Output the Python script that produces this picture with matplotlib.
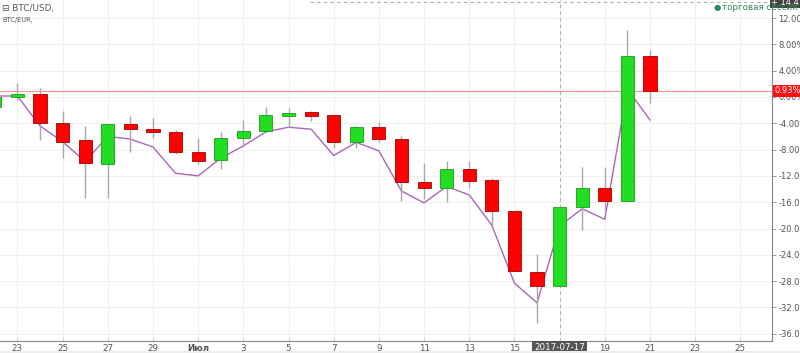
import matplotlib
matplotlib.use("Agg")
import matplotlib.pyplot as plt
import matplotlib.transforms as mtransforms
import numpy as np

# days since 2017-06-23 (June 22 = -1 ... July 21 = 28)
days = list(range(-1, 29))

opens = [-1.47, -0.05, 0.41, -3.9, -6.53, -10.2, -4.15, -4.8, -5.4, -8.3,
         -9.6, -6.2, -5.2, -2.9, -2.3, -2.8, -6.8, -4.5, -6.4, -13.0,
         -13.8, -11.0, -12.7, -17.3, -26.6, -28.7, -16.8, -13.9, -15.8, 6.23]
highs = [0.05, 2.08, 1.32, -2.08, -4.4, -4.1, -2.9, -3.2, -5.0, -6.3,
         -5.3, -3.5, -1.6, -1.7, -2.2, -2.8, -4.4, -3.85, -5.9, -10.0,
         -9.8, -9.7, -12.3, -17.3, -23.8, -16.8, -10.7, -10.7, 10.2, 7.1]
lows = [-1.47, -0.46, -6.53, -9.3, -15.3, -15.3, -8.3, -6.3, -8.7, -10.2,
        -10.9, -7.55, -5.3, -4.5, -3.65, -7.7, -7.7, -6.8, -15.8, -15.5,
        -16.0, -13.8, -19.5, -26.5, -34.3, -28.7, -20.3, -17.2, -15.8, -0.96]
closes = [0.05, 0.41, -3.9, -6.8, -9.98, -4.15, -4.86, -5.4, -8.3, -9.7,
          -6.3, -5.2, -2.7, -2.4, -2.9, -6.8, -4.5, -6.4, -13.0, -13.8,
          -11.0, -12.8, -17.3, -26.5, -28.7, -16.8, -13.9, -15.8, 6.23, 0.93]

# BTC/EUR comparison line
eur = [0.15, 0.15, -4.4, -6.8, -9.8, -6.0, -6.4, -7.6, -11.6, -12.0,
       -9.3, -7.45, -5.3, -4.6, -4.9, -8.9, -6.9, -8.2, -14.3, -16.1,
       -13.6, -14.9, -19.5, -28.3, -31.3, -19.6, -17.0, -18.6, 1.2, -3.5]

tick_days = list(range(0, 33, 2))
tick_labels = ['23', '25', '27', '29', 'Июл', '3', '5', '7', '9', '11', '13',
               '15', '', '19', '21', '23', '25']
y_ticks = list(range(-36, 13, 4))

last_price = 0.93
cross_day = 24
cross_val = 14.4

fig = plt.figure(figsize=(8, 3.53), dpi=100)
ax = fig.add_axes([0, 12 / 353, 772 / 800, 341 / 353])

ax.set_xlim(-0.77, 33.4)
ax.set_ylim(-37.1, 14.74)

# grid
for d in tick_days:
    ax.axvline(d, color='#f0f0f0', lw=0.8, zorder=0)
for v in y_ticks:
    ax.axhline(v, color='#f0f0f0', lw=0.8, zorder=0)

# comparison line
ax.plot(days, eur, color='#a867b8', lw=1.0, zorder=2)

# candles
d_arr = np.array(days)
o = np.array(opens)
c = np.array(closes)
up = c >= o
ax.vlines(d_arr, lows, highs, color='#a8a8a8', lw=1.0, zorder=3)
ax.bar(d_arr[up], (c - o)[up], bottom=o[up], width=0.58, color='#22dd22',
       edgecolor='#1c9c1c', lw=0.6, zorder=4)
ax.bar(d_arr[~up], (o - c)[~up], bottom=c[~up], width=0.58, color='#ff0000',
       edgecolor='#a80000', lw=0.6, zorder=4)

# last price line
ax.axhline(last_price, color='#ff9090', lw=0.8, zorder=1)

# crosshair
ax.axvline(cross_day, color='#b0b0b0', lw=0.8, ls=(0, (3, 3)), zorder=1)
ax.axhline(cross_val, xmin=310 / 772, xmax=1, color='#b0b0b0', lw=0.8,
           ls=(0, (3, 3)), zorder=1)

# axes styling
for s in ['top', 'left']:
    ax.spines[s].set_visible(False)
ax.spines['right'].set_color('#888888')
ax.spines['bottom'].set_color('#888888')
ax.yaxis.tick_right()
ax.set_yticks(y_ticks)
ax.set_yticklabels(['%.2f%%' % v for v in y_ticks])
ax.tick_params(axis='y', length=3, width=0.6, color='#888888', labelsize=6,
               labelcolor='#555555', pad=1.5)
ax.set_xticks(tick_days)
ax.set_xticklabels(tick_labels)
ax.tick_params(axis='x', length=3, width=0.6, color='#cccccc', labelsize=6.3,
               labelcolor='#555555', pad=2, direction='in')
for lab in ax.get_xticklabels():
    if lab.get_text() == 'Июл':
        lab.set_fontweight('bold')

trans_x = mtransforms.blended_transform_factory(ax.transData, ax.transAxes)
trans_y = mtransforms.blended_transform_factory(ax.transAxes, ax.transData)

ax.text(cross_day, -0.019, '2017-07-17', transform=trans_x, ha='center',
        va='center', fontsize=6.3, color='white', clip_on=False,
        bbox=dict(boxstyle='square,pad=0.2', fc='#555555', ec='none'))

ax.text(1.003, last_price, '%.2f%%' % last_price, transform=trans_y,
        ha='left', va='center', fontsize=6, color='white', clip_on=False,
        bbox=dict(boxstyle='square,pad=0.2', fc='#ff1010', ec='none'))

ax.text(0.999, cross_val, '+ 14.4', transform=trans_y, ha='left', va='center',
        fontsize=6, color='white', clip_on=False,
        bbox=dict(boxstyle='square,pad=0.2', fc='#444444', ec='none'))

# header texts
fig.text(0.003, 0.975, '⊟ BTC/USD,', fontsize=6.4, color='#555555',
         va='center', ha='left')
fig.text(0.003, 0.943, 'BTC/EUR,', fontsize=4.8, color='#555555',
         va='center', ha='left')
fig.text(0.8925, 0.98, '●', fontsize=6, color='#2e8b57', va='center',
         ha='left')
fig.text(0.903, 0.98, 'торговая сессия', fontsize=6.3, color='#2e8b57',
         va='center', ha='left')

fig.patches.append(plt.Rectangle((0, 0), 1, 2 / 353, transform=fig.transFigure,
                                 fc='#eeeeee', ec='none'))

fig.savefig('out.png', dpi=100)
